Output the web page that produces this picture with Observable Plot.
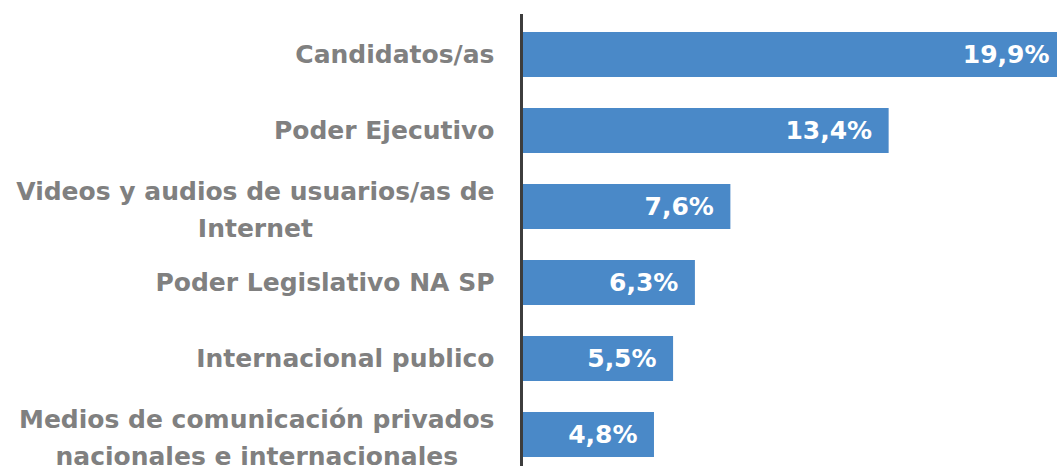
<!DOCTYPE html>
<html>
<head>
<meta charset="utf-8">
<script src="https://cdn.jsdelivr.net/npm/d3@7"></script>
<script src="https://cdn.jsdelivr.net/npm/@observablehq/plot@0.6"></script>
<style>
  html, body { margin: 0; padding: 0; overflow: hidden; background: #fff; }
  #chart svg { display: block; max-width: none !important; }
</style>
</head>
<body>
<div id="chart"></div>
<script>
const categories = [
  "Candidatos/as",
  "Poder Ejecutivo",
  "Videos y audios de usuarios/as de\nInternet",
  "Poder Legislativo NA SP",
  "Internacional publico",
  "Medios de comunicación privados\nnacionales e internacionales"
];
const values = [19.9, 13.4, 7.6, 6.3, 5.5, 4.8];
const valueLabels = ["19,9%", "13,4%", "7,6%", "6,3%", "5,5%", "4,8%"];

const data = categories.map((c, i) => ({category: c, value: values[i], label: valueLabels[i]}));

const FONT = "'DejaVu Sans', sans-serif";
const FS = 25;
const GAP = 29;
const ctx = document.createElement("canvas").getContext("2d");
ctx.font = `700 ${FS}px ${FONT}`;

const singles = data.filter(d => !d.category.includes("\n"));
const multis = data.filter(d => d.category.includes("\n"));

const multiMarks = multis.map(d => {
  const w = d3.max(d.category.split("\n"), l => ctx.measureText(l).width);
  return Plot.text([d], {
    y: "category", text: "category", frameAnchor: "left",
    textAnchor: "middle", dx: -GAP - w / 2, lineHeight: 1.48,
    fill: "#808080", fontWeight: 700, fontSize: FS
  });
});

const chart = Plot.plot({
  width: 1066,
  height: 475,
  marginLeft: 523,
  marginRight: 0,
  marginTop: 14,
  marginBottom: 0,
  style: {fontFamily: FONT, background: "#fff"},
  x: {domain: [0, 19.9], axis: null},
  y: {domain: categories, axis: null, paddingInner: 0.41, paddingOuter: 0.205},
  marks: [
    Plot.barX(data, {x: "value", y: "category", fill: "#4a89c8"}),
    Plot.ruleX([0], {stroke: "#3d3d3d", strokeWidth: 3, dx: -2}),
    Plot.text(data, {
      x: "value", y: "category", text: "label", textAnchor: "end", dx: -17,
      fill: "white", fontWeight: 700, fontSize: FS
    }),
    Plot.text(singles, {
      y: "category", text: "category", frameAnchor: "left", textAnchor: "end", dx: -GAP,
      fill: "#808080", fontWeight: 700, fontSize: FS
    }),
    ...multiMarks
  ]
});
document.getElementById("chart").appendChild(chart);
</script>
</body>
</html>
